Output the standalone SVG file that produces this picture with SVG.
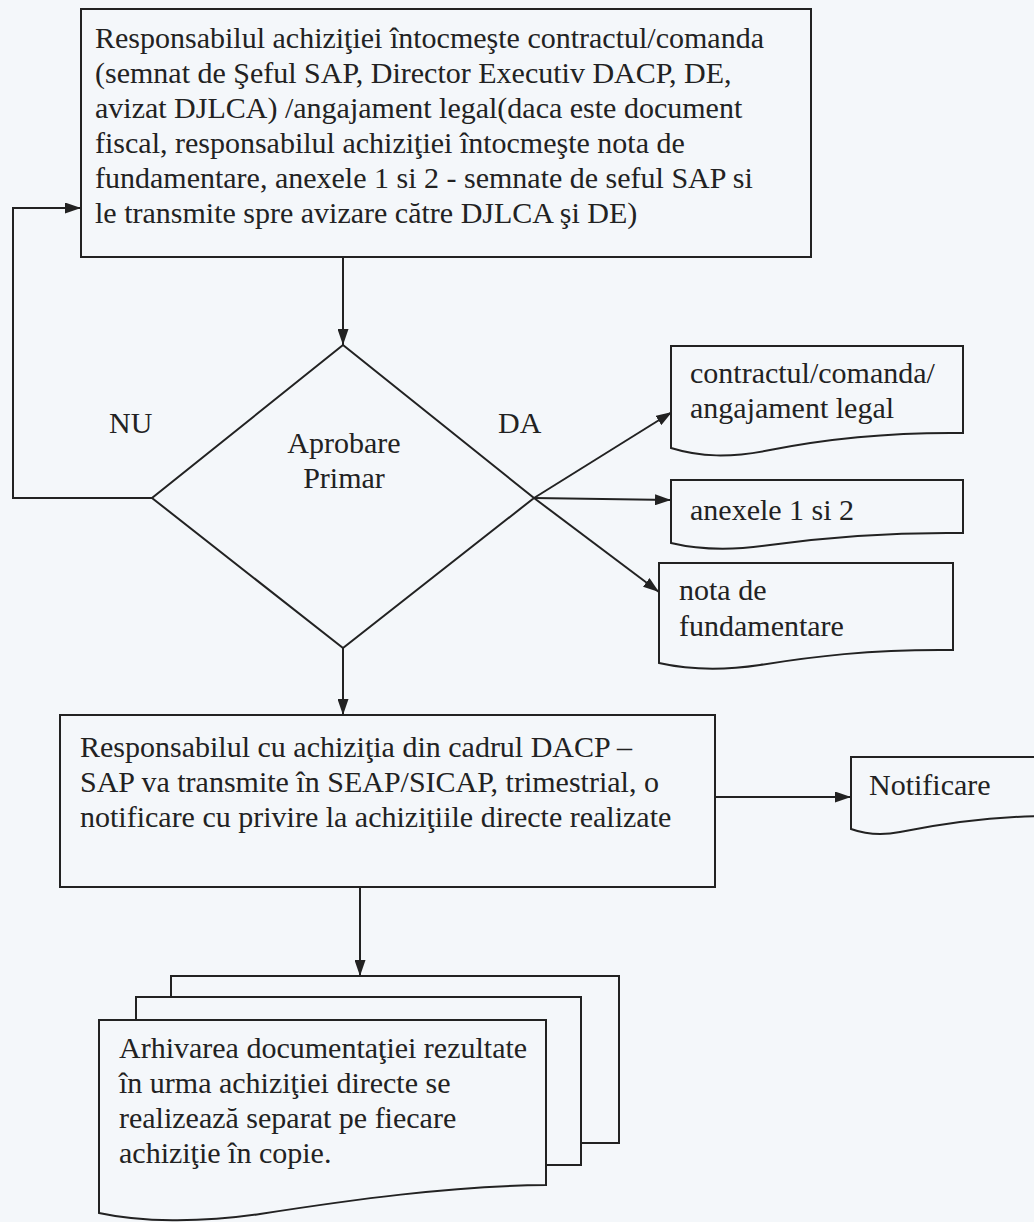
<svg xmlns="http://www.w3.org/2000/svg" width="1034" height="1222" viewBox="0 0 1034 1222">
  <style>
    .shape { fill: #f4f7fa; stroke: #222222; stroke-width: 2; }
    .wire { fill: none; stroke: #222222; stroke-width: 2; }
    .lbl { font-family: "Liberation Serif", "Times New Roman", serif; font-size: 30px; fill: #222222; }
    .mid { text-anchor: middle; }
  </style>
  <defs>
    <marker id="arrow" viewBox="0 0 16 11" refX="16" refY="5.5" markerWidth="16" markerHeight="11" markerUnits="userSpaceOnUse" orient="auto">
      <path d="M0,0 L16,5.5 L0,11 Z" fill="#222222"/>
    </marker>
  </defs>

  <rect width="1034" height="1222" fill="#f4f7fa"/>

  <!-- connectors -->
  <g id="connectors">
    <path class="wire" d="M343,257 V345" marker-end="url(#arrow)"/>
    <path class="wire" d="M152,498 H13 V208 H81" marker-end="url(#arrow)"/>
    <path class="wire" d="M534,498 L672,412" marker-end="url(#arrow)"/>
    <path class="wire" d="M534,498 L671,500" marker-end="url(#arrow)"/>
    <path class="wire" d="M534,498 L659,592" marker-end="url(#arrow)"/>
    <path class="wire" d="M343,648 V715" marker-end="url(#arrow)"/>
    <path class="wire" d="M715,797 H851" marker-end="url(#arrow)"/>
    <path class="wire" d="M360,887 V976" marker-end="url(#arrow)"/>
  </g>

  <!-- contract drafting step -->
  <g id="node-intocmire">
    <rect class="shape" x="81" y="9" width="730" height="248"/>
    <text class="lbl" x="95" y="48">Responsabilul achiziţiei întocmeşte contractul/comanda</text>
    <text class="lbl" x="95" y="83">(semnat de Şeful SAP, Director Executiv DACP, DE,</text>
    <text class="lbl" x="95" y="118">avizat DJLCA) /angajament legal(daca este document</text>
    <text class="lbl" x="95" y="153">fiscal, responsabilul achiziţiei întocmeşte nota de</text>
    <text class="lbl" x="95" y="188">fundamentare, anexele 1 si 2 - semnate de seful SAP si</text>
    <text class="lbl" x="95" y="223">le transmite spre avizare către DJLCA şi DE)</text>
  </g>

  <!-- approval decision -->
  <g id="node-aprobare">
    <path class="shape" d="M343,345 L534,498 L343,648 L152,498 Z"/>
    <text class="lbl mid" x="344" y="453">Aprobare</text>
    <text class="lbl mid" x="344" y="488">Primar</text>
  </g>
  <g id="label-nu"><text class="lbl" x="109" y="433">NU</text></g>
  <g id="label-da"><text class="lbl" x="498" y="433">DA</text></g>

  <!-- output documents -->
  <g id="doc-contract">
    <path class="shape" d="M671,346 H963 V433 C880,432 820,440 770,450 C730,458 700,457 671,448 Z"/>
    <text class="lbl" x="690" y="383">contractul/comanda/</text>
    <text class="lbl" x="690" y="418">angajament legal</text>
  </g>
  <g id="doc-anexe">
    <path class="shape" d="M671,480 H963 V533 C880,532 820,538 770,545 C730,551 700,550 671,543 Z"/>
    <text class="lbl" x="690" y="520">anexele 1 si 2</text>
  </g>
  <g id="doc-nota">
    <path class="shape" d="M659,563 H953 V650 C870,649 810,657 760,665 C720,671 690,670 659,663 Z"/>
    <text class="lbl" x="679" y="600">nota de</text>
    <text class="lbl" x="679" y="636">fundamentare</text>
  </g>

  <!-- SEAP/SICAP notification step -->
  <g id="node-notificare-seap">
    <rect class="shape" x="60" y="715" width="655" height="172"/>
    <text class="lbl" x="80" y="757">Responsabilul cu achiziţia din cadrul DACP –</text>
    <text class="lbl" x="80" y="792">SAP va transmite în SEAP/SICAP, trimestrial, o</text>
    <text class="lbl" x="80" y="827">notificare cu privire la achiziţiile directe realizate</text>
  </g>
  <g id="doc-notificare">
    <path class="shape" d="M851,757 H1050 V816 C990,816 940,824 900,832 C880,836 865,834 851,829 Z"/>
    <text class="lbl" x="869" y="795">Notificare</text>
  </g>

  <!-- archiving, multiple copies -->
  <g id="doc-arhivare">
    <rect class="shape" x="171" y="976" width="448" height="167"/>
    <rect class="shape" x="136" y="997" width="445" height="168"/>
    <path class="shape" d="M99,1020 H546 V1185 C450,1186 350,1200 260,1214 C200,1223 140,1222 99,1213 Z"/>
    <text class="lbl" x="119" y="1058">Arhivarea documentaţiei rezultate</text>
    <text class="lbl" x="119" y="1093">în urma achiziţiei directe se</text>
    <text class="lbl" x="119" y="1128">realizează separat pe fiecare</text>
    <text class="lbl" x="119" y="1163">achiziţie în copie.</text>
  </g>
</svg>
